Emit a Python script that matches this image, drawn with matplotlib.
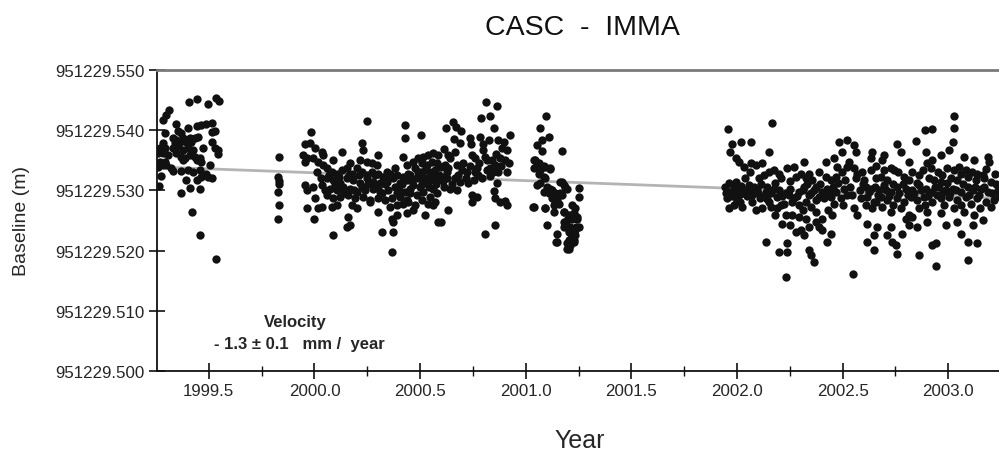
import matplotlib
matplotlib.use("Agg")
import matplotlib.pyplot as plt
from matplotlib.ticker import FixedLocator, FormatStrFormatter

plt.rcParams['font.family'] = ['Liberation Sans', 'DejaVu Sans']

BASE = 951229.0
TITLE = "CASC  -  IMMA"
X_LABEL = "Year"
Y_LABEL = "Baseline (m)"
VEL_LINE1 = "Velocity"
VEL_LINE2 = "- 1.3 \u00b1 0.1   mm /  year"

x_major = [1999.5, 2000.0, 2000.5, 2001.0, 2001.5, 2002.0, 2002.5, 2003.0]
x_minor = [1999.75, 2000.25, 2000.75, 2001.25, 2001.75, 2002.25, 2002.75]
x_labels = ["1999.5", "2000.0", "2000.5", "2001.0", "2001.5", "2002.0", "2002.5", "2003.0"]
y_major = [0.500, 0.510, 0.520, 0.530, 0.540, 0.550]

# trend line (fractional metres above BASE)
trend_years = [1999.254, 2003.240]
trend_vals = [0.5339, 0.5287]

# (year, baseline - BASE) for each observation block
seg1 = [
(1999.407,0.5447),(1999.442,0.5451),(1999.497,0.5443),(1999.532,0.5454),(1999.547,0.5449),
(1999.310,0.5433),(1999.299,0.5426),(1999.283,0.5417),
(1999.344,0.5410),(1999.442,0.5407),(1999.465,0.5408),(1999.489,0.5410),(1999.513,0.5412),
(1999.402,0.5403),
(1999.291,0.5395),(1999.355,0.5398),(1999.370,0.5395),(1999.513,0.5397),(1999.528,0.5399),
(1999.331,0.5387),(1999.347,0.5384),(1999.378,0.5387),(1999.410,0.5387),(1999.434,0.5387),(1999.450,0.5388),
(1999.283,0.5378),(1999.339,0.5378),(1999.363,0.5381),(1999.394,0.5381),(1999.418,0.5381),(1999.513,0.5381),
(1999.268,0.5370),(1999.291,0.5370),(1999.331,0.5370),(1999.355,0.5373),(1999.378,0.5367),(1999.402,0.5370),
(1999.426,0.5367),(1999.473,0.5371),(1999.528,0.5370),(1999.544,0.5367),
(1999.260,0.5362),(1999.283,0.5362),(1999.307,0.5359),(1999.347,0.5362),(1999.370,0.5356),(1999.386,0.5353),
(1999.410,0.5359),(1999.434,0.5356),(1999.457,0.5353),(1999.544,0.5361),
(1999.268,0.5348),(1999.291,0.5348),(1999.378,0.5351),(1999.442,0.5351),(1999.465,0.5348),(1999.505,0.5342),
(1999.260,0.5339),(1999.283,0.5342),(1999.299,0.5342),(1999.323,0.5337),
(1999.331,0.5332),(1999.370,0.5332),(1999.402,0.5334),(1999.426,0.5331),(1999.457,0.5334),(1999.489,0.5328),
(1999.276,0.5324),(1999.394,0.5317),(1999.442,0.5317),(1999.465,0.5323),(1999.497,0.5323),(1999.513,0.5321),
(1999.263,0.5308),(1999.410,0.5304),(1999.457,0.5303),(1999.370,0.5295),
(1999.421,0.5264),(1999.460,0.5226),(1999.536,0.5186),
]

seg2 = [(1999.830,0.5355),(1999.828,0.5322),(1999.832,0.5316),(1999.831,0.5310),
        (1999.827,0.5297),(1999.834,0.5276),(1999.827,0.5253)]

seg3 = [
(2000.250,0.5416),(1999.982,0.5397),(2000.430,0.5409),(2000.430,0.5387),
(1999.955,0.5377),(1999.979,0.5378),(2000.002,0.5370),(2000.034,0.5364),(2000.042,0.5359),
(1999.947,0.5359),(1999.963,0.5353),(1999.955,0.5348),(1999.995,0.5353),(2000.018,0.5348),(2000.042,0.5342),
(2000.089,0.5351),(2000.129,0.5364),(2000.168,0.5345),(2000.224,0.5378),(2000.232,0.5367),(2000.216,0.5351),
(2000.247,0.5348),(2000.271,0.5345),(2000.303,0.5359),(2000.295,0.5342),(2000.342,0.5331),(2000.382,0.5337),
(2000.421,0.5356),(2000.437,0.5342),
(2000.058,0.5337),(2000.082,0.5331),(2000.105,0.5328),(2000.129,0.5334),(2000.153,0.5337),(2000.176,0.5328),
(2000.200,0.5337),(2000.224,0.5331),(2000.247,0.5326),(2000.271,0.5331),(2000.303,0.5328),(2000.326,0.5323),
(2000.358,0.5328),(2000.390,0.5326),(2000.421,0.5323),(2000.445,0.5328),
(2000.058,0.5320),(2000.089,0.5317),(2000.121,0.5312),(2000.153,0.5320),(2000.184,0.5317),(2000.216,0.5312),
(2000.247,0.5320),(2000.279,0.5314),(2000.311,0.5312),(2000.342,0.5314),(2000.374,0.5320),(2000.405,0.5312),
(2000.437,0.5317),
(1999.955,0.5309),(1999.995,0.5306),(2000.034,0.5309),(2000.074,0.5303),(2000.105,0.5301),(2000.137,0.5306),
(2000.168,0.5303),(2000.200,0.5298),(2000.240,0.5301),(2000.279,0.5303),(2000.311,0.5298),(2000.350,0.5301),
(2000.390,0.5295),(2000.429,0.5298),(2000.453,0.5303),
(1999.963,0.5301),(2000.002,0.5288),(2000.058,0.5292),(2000.089,0.5287),(2000.121,0.5289),(2000.160,0.5292),
(2000.192,0.5287),(2000.232,0.5289),(2000.263,0.5284),(2000.303,0.5287),(2000.334,0.5284),(2000.366,0.5287),
(2000.405,0.5289),(2000.437,0.5284),
(1999.963,0.5270),(2000.018,0.5270),(2000.034,0.5273),(2000.082,0.5273),(2000.105,0.5276),(2000.176,0.5276),
(2000.200,0.5270),(2000.263,0.5281),(2000.303,0.5264),(2000.358,0.5273),(2000.390,0.5276),(2000.421,0.5278),
(1999.998,0.5253),(2000.160,0.5256),(2000.153,0.5239),(2000.168,0.5242),(2000.366,0.5253),(2000.374,0.5248),
(2000.390,0.5259),
(2000.089,0.5226),(2000.318,0.5231),(2000.374,0.5231),(2000.366,0.5198),
(2000.503,0.5392),(2000.468,0.5348),(2000.492,0.5353),(2000.516,0.5356),(2000.539,0.5359),(2000.563,0.5362),
(2000.587,0.5359),(2000.508,0.5345),(2000.531,0.5342),(2000.555,0.5348),(2000.579,0.5345),(2000.476,0.5337),
(2000.500,0.5331),(2000.523,0.5334),(2000.547,0.5331),(2000.571,0.5334),(2000.452,0.5326),
(2000.484,0.5320),(2000.516,0.5323),(2000.547,0.5317),(2000.579,0.5320),(2000.468,0.5309),(2000.500,0.5306),
(2000.531,0.5312),(2000.563,0.5303),(2000.452,0.5295),(2000.484,0.5292),(2000.516,0.5298),
(2000.547,0.5289),(2000.579,0.5295),(2000.445,0.5281),(2000.476,0.5276),(2000.508,0.5284),(2000.539,0.5278),
(2000.571,0.5281),(2000.468,0.5267),(2000.523,0.5259),(2000.563,0.5276),(2000.587,0.5248),(2000.437,0.5262),
(2000.811,0.5447),(2000.864,0.5441),(2000.788,0.5421),(2000.829,0.5423),(2000.623,0.5404),(2000.658,0.5413),
(2000.671,0.5406),(2000.693,0.5399),(2000.851,0.5403),(2000.924,0.5392),
(2000.661,0.5386),(2000.687,0.5378),(2000.734,0.5387),(2000.740,0.5377),(2000.785,0.5389),(2000.797,0.5377),
(2000.824,0.5384),(2000.871,0.5384),(2000.895,0.5381),(2000.887,0.5371),(2000.911,0.5367),
(2000.611,0.5369),(2000.630,0.5359),(2000.666,0.5363),(2000.642,0.5353),(2000.745,0.5359),(2000.761,0.5353),
(2000.800,0.5367),(2000.808,0.5356),(2000.840,0.5351),(2000.856,0.5342),(2000.879,0.5353),
(2000.597,0.5339),(2000.619,0.5342),(2000.634,0.5337),(2000.674,0.5342),(2000.698,0.5334),(2000.721,0.5331),
(2000.769,0.5337),(2000.816,0.5334),(2000.832,0.5337),(2000.871,0.5331),(2000.911,0.5330),
(2000.603,0.5323),(2000.627,0.5320),(2000.666,0.5320),(2000.690,0.5314),(2000.729,0.5312),(2000.753,0.5317),
(2000.772,0.5326),(2000.832,0.5324),(2000.864,0.5312),
(2000.611,0.5306),(2000.642,0.5303),(2000.674,0.5301),(2000.745,0.5293),(2000.769,0.5289),(2000.848,0.5299),
(2000.856,0.5287),(2000.879,0.5281),(2000.903,0.5282),(2000.911,0.5276),
(2000.634,0.5267),(2000.745,0.5281),(2000.600,0.5248),(2000.856,0.5243),(2000.808,0.5228),
(2000.010,0.5330),(2000.030,0.5320),(2000.050,0.5300),(2000.070,0.5325),(2000.095,0.5310),(2000.115,0.5322),
(2000.140,0.5295),(2000.165,0.5325),(2000.185,0.5300),(2000.210,0.5325),(2000.225,0.5305),(2000.255,0.5310),
(2000.285,0.5325),(2000.300,0.5305),(2000.320,0.5295),(2000.335,0.5310),(2000.350,0.5320),(2000.380,0.5305),
(2000.400,0.5300),(2000.415,0.5310),(2000.460,0.5315),(2000.490,0.5330),(2000.510,0.5310),(2000.525,0.5320),
(2000.540,0.5305),(2000.555,0.5325),(2000.575,0.5310),(2000.590,0.5325),(2000.610,0.5315),(2000.625,0.5330),
(2000.650,0.5310),(2000.680,0.5325),(2000.705,0.5345),(2000.715,0.5320),(2000.735,0.5340),(2000.760,0.5330),
(2000.780,0.5345),(2000.795,0.5320),(2000.815,0.5350),(2000.845,0.5330),(2000.860,0.5360),(2000.885,0.5340),
(2000.900,0.5350),(2000.920,0.5345),
]

seg4 = [
(2001.097,0.5424),(2001.069,0.5404),(2001.077,0.5384),(2001.108,0.5388),(2001.053,0.5376),(2001.077,0.5365),
(2001.171,0.5365),(2001.045,0.5351),(2001.061,0.5345),(2001.037,0.5337),(2001.069,0.5334),(2001.085,0.5340),
(2001.116,0.5337),(2001.092,0.5320),(2001.053,0.5309),(2001.085,0.5298),(2001.108,0.5295),(2001.124,0.5287),
(2001.140,0.5281),(2001.116,0.5303),(2001.171,0.5314),(2001.187,0.5306),(2001.163,0.5295),(2001.250,0.5304),
(2001.250,0.5289),(2001.034,0.5272),(2001.089,0.5270),(2001.132,0.5264),(2001.179,0.5264),(2001.219,0.5276),
(2001.235,0.5270),(2001.219,0.5259),(2001.243,0.5253),(2001.195,0.5251),(2001.100,0.5243),(2001.179,0.5239),
(2001.211,0.5239),(2001.250,0.5239),(2001.148,0.5228),(2001.219,0.5223),(2001.235,0.5226),(2001.148,0.5214),
(2001.195,0.5212),(2001.211,0.5209),(2001.203,0.5203),(2001.227,0.5214),
(2001.037,0.5351),(2001.053,0.5342),(2001.092,0.5339),(2001.116,0.5336),(2001.061,0.5328),(2001.085,0.5323),
(2001.069,0.5312),(2001.100,0.5306),(2001.124,0.5301),(2001.140,0.5295),(2001.164,0.5314),(2001.180,0.5309),
(2001.195,0.5303),(2001.148,0.5284),(2001.172,0.5292),(2001.037,0.5272),(2001.092,0.5270),(2001.132,0.5276),
(2001.156,0.5278),(2001.180,0.5264),(2001.203,0.5259),(2001.227,0.5262),(2001.219,0.5253),(2001.243,0.5256),
(2001.180,0.5248),(2001.239,0.5239),(2001.203,0.5231),(2001.219,0.5226),(2001.235,0.5234),(2001.145,0.5214),
(2001.203,0.5217),(2001.195,0.5203),(2001.211,0.5209),(2001.227,0.5217),
]

seg5 = [
(2001.958,0.5402),(2002.167,0.5412),
(2002.021,0.5381),(2002.064,0.5381),(2001.977,0.5377),(2001.969,0.5364),(2002.151,0.5364),
(2001.993,0.5353),(2002.009,0.5348),(2002.032,0.5339),(2002.064,0.5345),(2002.088,0.5342),(2002.119,0.5345),
(2002.151,0.5331),(2002.174,0.5334),(2002.198,0.5328),(2002.238,0.5337),(2002.269,0.5339),(2002.317,0.5347),
(2002.301,0.5328),(2002.388,0.5331),(2002.419,0.5348),(2002.459,0.5353),(2002.475,0.5339),(2002.498,0.5364),
(2002.483,0.5381),(2002.522,0.5384),(2002.530,0.5348),(2002.498,0.5331),(2002.522,0.5339),
(2001.945,0.5306),(2001.969,0.5298),(2001.993,0.5289),(2002.016,0.5281),(2002.040,0.5301),(2002.056,0.5309),
(2002.072,0.5292),(2002.095,0.5303),(2002.111,0.5287),(2002.135,0.5298),(2002.151,0.5281),(2002.174,0.5303),
(2002.190,0.5289),(2002.206,0.5276),(2002.230,0.5295),(2002.253,0.5303),(2002.269,0.5287),(2002.293,0.5298),
(2002.317,0.5306),(2002.340,0.5292),(2002.364,0.5301),(2002.388,0.5289),(2002.404,0.5298),(2002.427,0.5303),
(2002.443,0.5289),(2002.467,0.5298),(2002.490,0.5287),(2002.506,0.5303),(2002.522,0.5292),
(2002.277,0.5323),(2002.325,0.5320),(2002.356,0.5317),(2002.419,0.5323),(2002.443,0.5317),(2002.103,0.5320),
(2002.040,0.5320),(2001.993,0.5314),(2001.953,0.5287),(2001.961,0.5270),(2001.985,0.5276),(2002.024,0.5273),
(2002.088,0.5267),(2002.119,0.5270),(2002.159,0.5273),(2002.190,0.5270),(2002.222,0.5278),(2002.261,0.5281),
(2002.293,0.5276),(2002.325,0.5281),(2002.372,0.5284),(2002.411,0.5287),(2002.459,0.5278),
(2002.182,0.5259),(2002.230,0.5259),(2002.261,0.5259),(2002.293,0.5256),(2002.325,0.5253),(2002.372,0.5264),
(2002.404,0.5253),(2002.451,0.5259),(2002.214,0.5245),(2002.253,0.5242),(2002.277,0.5231),(2002.301,0.5234),
(2002.317,0.5226),(2002.340,0.5239),(2002.372,0.5248),(2002.388,0.5239),(2002.404,0.5234),(2002.443,0.5228),
(2002.238,0.5212),(2002.198,0.5198),(2002.238,0.5198),(2002.340,0.5201),(2002.348,0.5192),(2002.135,0.5214),
(2002.364,0.5181),(2002.427,0.5214),(2002.234,0.5156),
(2003.025,0.5424),(2003.025,0.5403),(2002.889,0.5401),(2002.925,0.5402),
(2002.554,0.5376),(2002.756,0.5377),(2002.846,0.5382),(2003.020,0.5381),
(2002.562,0.5364),(2002.641,0.5364),(2002.696,0.5359),(2002.775,0.5364),(2002.893,0.5364),(2003.004,0.5367),
(2003.075,0.5356),(2003.186,0.5356),
(2002.633,0.5353),(2002.688,0.5351),(2002.814,0.5348),(2002.925,0.5351),(2002.964,0.5359),(2002.901,0.5345),
(2003.122,0.5351),(2003.194,0.5348),
(2002.554,0.5337),(2002.570,0.5328),(2002.633,0.5334),(2002.696,0.5334),(2002.727,0.5337),(2002.743,0.5334),
(2002.830,0.5331),(2002.878,0.5334),(2002.917,0.5337),(2002.949,0.5331),(2002.996,0.5337),(2003.028,0.5334),
(2003.051,0.5339),(2003.083,0.5334),(2003.138,0.5328),(2003.162,0.5326),
(2002.562,0.5320),(2002.601,0.5317),(2002.656,0.5320),(2002.680,0.5323),(2002.712,0.5317),(2002.791,0.5323),
(2002.814,0.5317),(2002.854,0.5312),(2002.909,0.5320),(2002.933,0.5317),(2002.964,0.5314),(2003.012,0.5320),
(2003.043,0.5317),(2003.091,0.5323),(2003.130,0.5317),(2003.170,0.5320),(2003.201,0.5314),
(2002.609,0.5306),(2002.633,0.5303),(2002.672,0.5301),(2002.696,0.5309),(2002.727,0.5298),(2002.759,0.5306),
(2002.799,0.5303),(2002.830,0.5301),(2002.862,0.5309),(2002.893,0.5303),(2002.925,0.5298),(2002.957,0.5306),
(2002.988,0.5301),(2003.020,0.5303),(2003.059,0.5298),(2003.091,0.5306),(2003.115,0.5301),(2003.154,0.5303),
(2003.186,0.5298),(2003.233,0.5301),
(2002.546,0.5292),(2002.585,0.5287),(2002.617,0.5289),(2002.648,0.5281),(2002.680,0.5289),(2002.712,0.5284),
(2002.759,0.5287),(2002.791,0.5281),(2002.822,0.5289),(2002.854,0.5284),(2002.885,0.5289),(2002.925,0.5281),
(2002.964,0.5287),(2003.004,0.5289),(2003.043,0.5284),(2003.083,0.5289),(2003.107,0.5278),(2003.138,0.5287),
(2003.178,0.5281),(2003.217,0.5284),
(2002.554,0.5270),(2002.570,0.5259),(2002.609,0.5276),(2002.641,0.5270),(2002.688,0.5273),(2002.727,0.5264),
(2002.775,0.5270),(2002.814,0.5259),(2002.799,0.5253),(2002.830,0.5256),(2002.862,0.5270),(2002.901,0.5264),
(2002.964,0.5262),(2003.028,0.5270),(2003.075,0.5264),(2003.122,0.5259),(2003.162,0.5250),
(2002.617,0.5245),(2002.664,0.5239),(2002.727,0.5239),(2002.783,0.5228),(2002.814,0.5242),(2002.854,0.5239),
(2002.901,0.5248),(2002.988,0.5242),(2003.043,0.5248),(2003.059,0.5228),(2003.115,0.5242),(2002.648,0.5226),
(2002.712,0.5226),(2002.735,0.5214),(2002.751,0.5209),(2002.759,0.5195),(2002.617,0.5214),(2002.648,0.5201),
(2002.862,0.5192),(2002.925,0.5209),(2002.941,0.5213),(2003.091,0.5214),(2003.138,0.5212),
(2002.941,0.5174),(2003.094,0.5184),(2002.551,0.5161),
(2001.950,0.5295),(2001.962,0.5312),(2001.975,0.5290),(2001.985,0.5305),(2001.998,0.5300),(2002.008,0.5293),
(2002.020,0.5308),(2002.030,0.5296),(2002.048,0.5290),(2002.062,0.5298),(2002.080,0.5305),(2002.100,0.5295),
(2002.115,0.5310),(2002.128,0.5290),(2002.142,0.5306),(2002.163,0.5295),(2002.180,0.5312),(2002.200,0.5300),
(2002.215,0.5290),(2002.246,0.5292),(2002.285,0.5290),(2002.310,0.5300),(2002.332,0.5310),(2002.350,0.5296),
(2002.376,0.5305),(2002.395,0.5310),(2002.415,0.5292),(2002.435,0.5297),(2002.455,0.5306),(2002.480,0.5312),
(2002.512,0.5318),(2002.535,0.5305),
(2002.580,0.5300),(2002.595,0.5310),(2002.625,0.5298),(2002.652,0.5306),(2002.665,0.5292),(2002.705,0.5300),
(2002.720,0.5290),(2002.738,0.5310),(2002.768,0.5296),(2002.785,0.5310),(2002.808,0.5292),(2002.840,0.5296),
(2002.870,0.5300),(2002.905,0.5290),(2002.935,0.5306),(2002.948,0.5292),(2002.975,0.5298),(2002.995,0.5312),
(2003.010,0.5295),(2003.035,0.5300),(2003.068,0.5310),(2003.100,0.5293),(2003.128,0.5305),(2003.145,0.5292),
(2003.170,0.5305),(2003.205,0.5295),(2003.225,0.5310),(2003.238,0.5290),
(2002.060,0.5330),(2002.130,0.5325),(2002.210,0.5320),(2002.250,0.5316),(2002.340,0.5328),(2002.470,0.5322),
(2002.590,0.5330),(2002.660,0.5340),(2002.760,0.5330),(2002.860,0.5325),(2002.970,0.5325),(2003.060,0.5328),
(2003.110,0.5330),(2003.180,0.5335),(2003.220,0.5328),
(2002.000,0.5282),(2002.070,0.5280),(2002.140,0.5285),(2002.310,0.5268),(2002.350,0.5272),(2002.430,0.5268),
(2002.500,0.5275),(2002.660,0.5280),(2002.740,0.5276),(2002.890,0.5276),(2002.980,0.5275),(2003.060,0.5275),
(2003.150,0.5270),(2003.200,0.5272),
]

fig = plt.figure(figsize=(9.99, 4.52), dpi=100)
ax = fig.add_axes([0.157, 1 - 372 / 452, 1.0 - 0.157, (372 - 71) / 452])

TXT = '#262626'
for seg in (seg1, seg2, seg3, seg4, seg5):
    xs = [p[0] for p in seg]
    ys = [BASE + p[1] for p in seg]
    ax.scatter(xs, ys, s=36, color='#111111', linewidths=0, zorder=3)

ax.plot(trend_years, [BASE + v for v in trend_vals], color='#b4b4b4', lw=2.0, zorder=2)

ax.set_xlim(1999.254, 2003.24)
ax.set_ylim(BASE + 0.500, BASE + 0.550)

ax.xaxis.set_major_locator(FixedLocator(x_major))
ax.set_xticklabels(x_labels)
ax.xaxis.set_minor_locator(FixedLocator(x_minor))
ax.yaxis.set_major_locator(FixedLocator([BASE + v for v in y_major]))
ax.yaxis.set_major_formatter(FormatStrFormatter('%.3f'))

ax.tick_params(axis='both', which='major', direction='inout', length=12, width=1.2,
               labelsize=12.2, colors='#111111', labelcolor=TXT)
ax.tick_params(axis='x', which='major', pad=3)
ax.tick_params(axis='y', which='major', pad=3)
ax.tick_params(axis='x', which='minor', direction='inout', length=7, width=1.0, colors='#111111')

for side in ('left', 'bottom'):
    ax.spines[side].set_color('#111111')
    ax.spines[side].set_linewidth(1.3)
ax.spines['top'].set_color('#7a7a7a')
ax.spines['top'].set_linewidth(2.0)
ax.spines['right'].set_visible(False)

fig.text(0.583, 0.938, TITLE, ha='center', va='center', fontsize=20.5, color='#111111')
fig.text(0.580, 0.024, X_LABEL, ha='center', va='center', fontsize=18, color=TXT)
fig.text(0.022, 0.511, Y_LABEL, ha='center', va='center', rotation=90, fontsize=14, color=TXT)

ax.text(1999.908, BASE + 0.5082, VEL_LINE1, ha='center', va='center', fontsize=12,
        fontweight='bold', color=TXT)
ax.text(1999.929, BASE + 0.5045, VEL_LINE2, ha='center', va='center', fontsize=12,
        fontweight='bold', color=TXT)

fig.savefig('out.png', dpi=100)
